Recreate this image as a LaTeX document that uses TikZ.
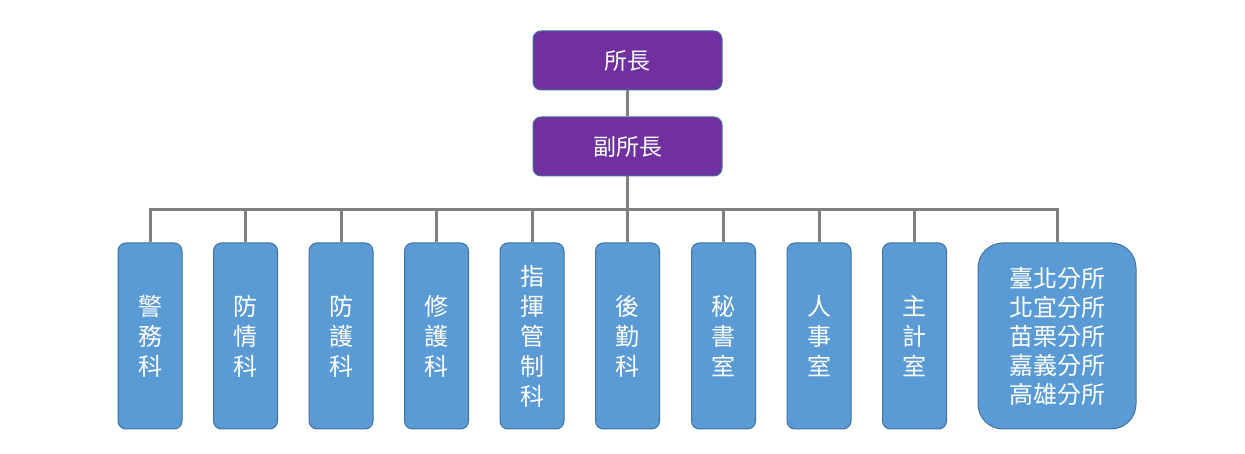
\documentclass[tikz,border=0pt]{standalone}
\usepackage{fontspec}
\setmainfont{Noto Sans CJK TC}
\begin{document}
\begin{tikzpicture}[x=1pt,y=1pt,
  conn/.style={draw=black!50, line width=3pt},
  topbox/.style={draw={rgb,255:red,65;green,113;blue,156}, line width=1pt, fill={rgb,255:red,112;green,48;blue,160}, rounded corners=8pt,
    minimum width=189pt, minimum height=59pt, text=white, font=\fontsize{23}{28}\selectfont, inner sep=0pt},
  unit/.style={draw={rgb,255:red,65;green,113;blue,156}, line width=1pt, fill={rgb,255:red,91;green,155;blue,213}, rounded corners=8pt,
    minimum width=64pt, minimum height=186pt, text=white, font=\fontsize{24}{30}\selectfont, align=center, inner sep=0pt}]
\useasboundingbox (0,0) rectangle (1245,454);
\fill[white] (0,0) rectangle (1245,454);
\node[topbox] (head) at (627.5,393.5) {所長};
\node[topbox] (deputy) at (627.5,307.5) {副所長};
\coordinate (bus) at (627.5,244);
\node[unit] (u1) at (150,118) {警\\務\\科};
\node[unit] (u2) at (245.5,118) {防\\情\\科};
\node[unit] (u3) at (341,118) {防\\護\\科};
\node[unit] (u4) at (436.5,118) {修\\護\\科};
\node[unit] (u5) at (532,118) {指\\揮\\管\\制\\科};
\node[unit] (u6) at (627.5,118) {後\\勤\\科};
\node[unit] (u7) at (723.5,118) {秘\\書\\室};
\node[unit] (u8) at (819,118) {人\\事\\室};
\node[unit] (u9) at (914.5,118) {主\\計\\室};
\node[unit, minimum width=158pt, rounded corners=25pt, font=\fontsize{24}{29}\selectfont] (u10) at (1057,118) {臺北分所\\北宜分所\\苗栗分所\\嘉義分所\\高雄分所};
\draw[conn] (head.south) -- (deputy.north);
\draw[conn] (deputy.south) -- (bus);
\foreach \n in {u1,u2,u3,u4,u5,u6,u7,u8,u9,u10}
  \draw[conn] (bus) -| (\n.north);
\end{tikzpicture}
\end{document}
